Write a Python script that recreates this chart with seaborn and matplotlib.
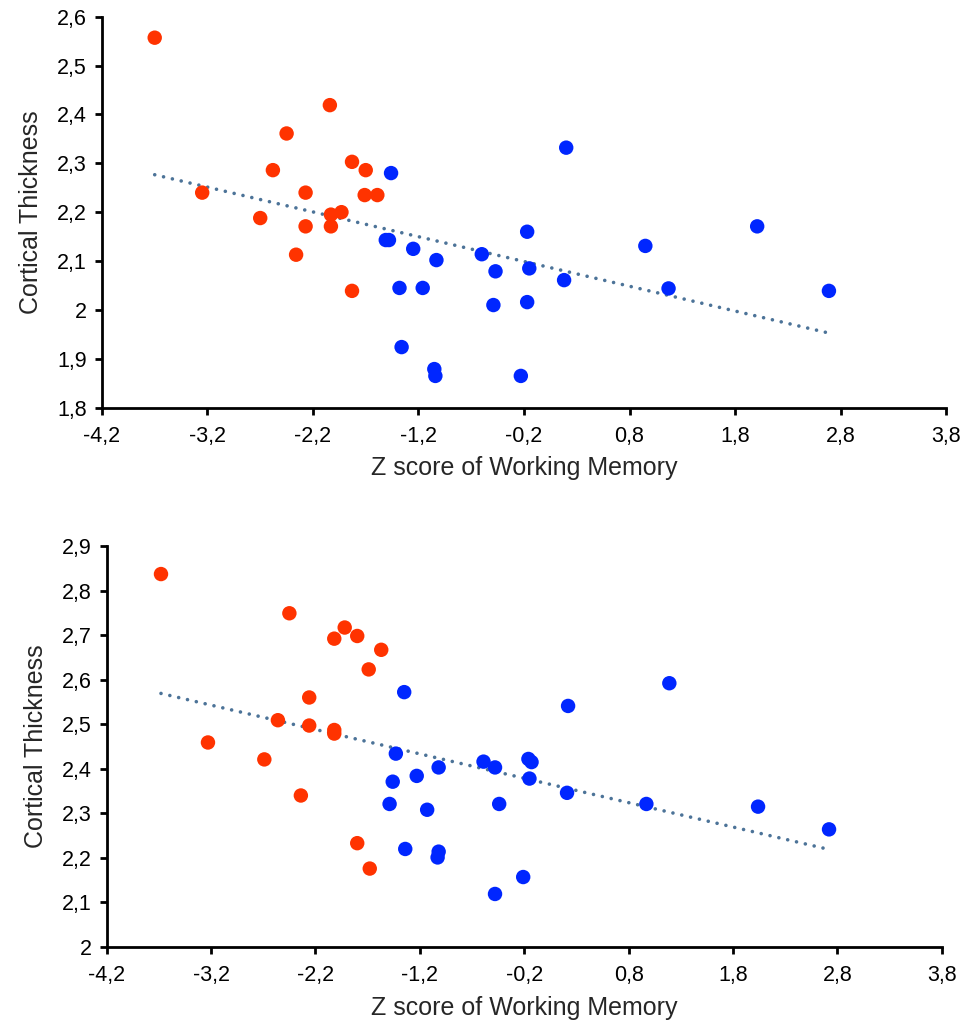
import numpy as np
import pandas as pd
import matplotlib
matplotlib.use("Agg")
import matplotlib.pyplot as plt
from matplotlib.ticker import FuncFormatter
import seaborn as sns

# ---------------- data ----------------
red_x_top = [-3.70, -3.25, -2.70, -2.58, -2.45, -2.36, -2.27, -2.27, -2.04, -2.03,
             -2.03, -1.93, -1.83, -1.83, -1.71, -1.70, -1.59]
red_y_top = [2.557, 2.240, 2.188, 2.286, 2.361, 2.113, 2.240, 2.171, 2.419, 2.195,
             2.171, 2.200, 2.303, 2.039, 2.235, 2.286, 2.235]
blue_x_top = [-1.51, -1.48, -1.46, -1.38, -1.36, -1.25, -1.16, -1.05, -1.04, -1.03,
              -0.60, -0.49, -0.47, -0.23, -0.17, -0.17, -0.15, 0.18, 0.20, 0.95,
              1.17, 2.01, 2.69]
blue_y_top = [2.143, 2.143, 2.280, 2.045, 1.924, 2.125, 2.045, 1.879, 1.865, 2.102,
              2.114, 2.010, 2.079, 1.865, 2.160, 2.016, 2.085, 2.061, 2.332, 2.131,
              2.044, 2.171, 2.039]

red_x_bot = [-3.68, -3.23, -2.69, -2.56, -2.45, -2.34, -2.26, -2.26, -2.02, -2.02,
             -2.02, -1.92, -1.80, -1.80, -1.69, -1.68, -1.57]
red_y_bot = [2.837, 2.459, 2.421, 2.509, 2.749, 2.340, 2.560, 2.497, 2.692, 2.487,
             2.479, 2.717, 2.698, 2.233, 2.623, 2.176, 2.667]
blue_x_bot = [-1.49, -1.46, -1.43, -1.35, -1.34, -1.23, -1.13, -1.03, -1.02, -1.02,
              -0.59, -0.48, -0.48, -0.44, -0.21, -0.16, -0.15, -0.13, 0.21, 0.22,
              0.97, 1.19, 2.04, 2.72]
blue_y_bot = [2.321, 2.371, 2.434, 2.572, 2.220, 2.384, 2.308, 2.201, 2.403, 2.214,
              2.416, 2.403, 2.119, 2.321, 2.157, 2.422, 2.378, 2.415, 2.346, 2.541,
              2.321, 2.592, 2.315, 2.264]

x_ticks = [-4.2, -3.2, -2.2, -1.2, -0.2, 0.8, 1.8, 2.8, 3.8]
y_ticks_top = [1.8, 1.9, 2.0, 2.1, 2.2, 2.3, 2.4, 2.5, 2.6]
y_ticks_bot = [2.0, 2.1, 2.2, 2.3, 2.4, 2.5, 2.6, 2.7, 2.8, 2.9]

x_label = "Z score of Working Memory"
y_label = "Cortical Thickness"

RED = "#FF3300"
BLUE = "#0026FF"
LINE = "#4C7398"

# ---------------- style ----------------
sns.set_style("ticks")
plt.rcParams["font.family"] = ["Liberation Sans", "DejaVu Sans"]

fig = plt.figure(figsize=(9.71, 10.29), dpi=100)
ax_top = fig.add_axes([0.1050, 0.6038, 0.8693, 0.3800])
ax_bot = fig.add_axes([0.1099, 0.0797, 0.8600, 0.3897])


def fmt(v, pos):
    r = round(v, 1)
    if abs(r - round(r)) < 1e-9:
        return str(int(round(r)))
    return f"{r:.1f}".replace(".", ",")


def draw(ax, rx, ry, bx, by, ylim, yticks):
    df = pd.DataFrame({
        "x": list(rx) + list(bx),
        "y": list(ry) + list(by),
        "g": ["low"] * len(rx) + ["high"] * len(bx),
    })
    sns.regplot(data=df, x="x", y="y", scatter=False, ci=None, truncate=True, ax=ax,
                line_kws=dict(color=LINE, linewidth=2.6, linestyle=(0, (0.01, 2.5)),
                              dash_capstyle="round", zorder=1))
    sns.scatterplot(data=df, x="x", y="y", hue="g",
                    palette={"low": RED, "high": BLUE}, s=108, linewidth=0,
                    legend=False, ax=ax, zorder=3)
    ax.set_xlim(-4.2, 3.8)
    ax.set_ylim(*ylim)
    ax.set_xticks(x_ticks)
    ax.set_yticks(yticks)
    ax.xaxis.set_major_formatter(FuncFormatter(fmt))
    ax.yaxis.set_major_formatter(FuncFormatter(fmt))
    for side in ["top", "right"]:
        ax.spines[side].set_visible(False)
    for side in ["left", "bottom"]:
        ax.spines[side].set_linewidth(2.0)
        ax.spines[side].set_color("black")
    ax.tick_params(axis="both", direction="out", length=5, width=2.0,
                   labelsize=15.5, colors="black")
    ax.tick_params(axis="x", pad=8)
    ax.tick_params(axis="y", pad=6)
    ax.set_xlabel(x_label, fontsize=18, labelpad=7)
    ax.set_ylabel(y_label, fontsize=18, labelpad=10)


draw(ax_top, red_x_top, red_y_top, blue_x_top, blue_y_top, (1.8, 2.6), y_ticks_top)
draw(ax_bot, red_x_bot, red_y_bot, blue_x_bot, blue_y_bot, (2.0, 2.9), y_ticks_bot)

fig.savefig("out.png", dpi=100, facecolor="white")
